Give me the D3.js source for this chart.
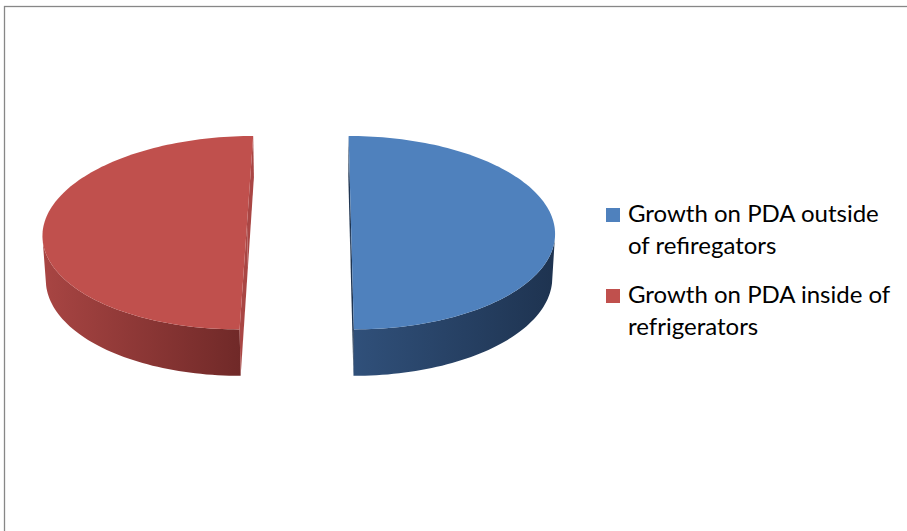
<!DOCTYPE html>
<html>
<head>
<meta charset="utf-8">
<script src="https://cdn.jsdelivr.net/npm/d3@7"></script>
<style>
  body { margin: 0; background: #fff; }
  svg { display: block; }
</style>
</head>
<body>
<svg width="907" height="531"></svg>
<script>
// data
var categories = ["Growth on PDA outside of refiregators", "Growth on PDA inside of refrigerators"];
var values = [50, 50];
var legendLines = [["Growth on PDA outside", "of refiregators"], ["Growth on PDA inside of", "refrigerators"]];

// styles
var topColors = ["#4F81BD", "#C0504D"];
var sideLight = ["#30507A", "#A84543"];
var sideDark = ["#1E3350", "#702928"];
var innerColors = ["#1F3552", "#A94644"];

var svg = d3.select("svg");

// frame (right and bottom edges fall off the picture)
svg.append("rect")
  .attr("x", 4.5).attr("y", 6.5)
  .attr("width", 1200).attr("height", 1200)
  .attr("fill", "none")
  .attr("stroke", "#878787")
  .attr("stroke-width", 1.3);

// 3d pie set-up: perspective view of a flat cylinder
var px = 322, py = 224, D = 1990, phi = 28.2 * Math.PI / 180;
var R = 203, H = 50, X0 = -23, explode = 52;

function proj(p) {
  var up = p[1] * Math.sin(phi) + p[2] * Math.cos(phi);
  var dz = p[1] * Math.cos(phi) - p[2] * Math.sin(phi);
  var s = D / (D + dz);
  return [px + p[0] * s, py - up * s];
}
var cam = [0, -D * Math.cos(phi), D * Math.sin(phi)];
function facing(n, p) {
  return n[0] * (cam[0] - p[0]) + n[1] * (cam[1] - p[1]) + n[2] * (cam[2] - p[2]) > 0;
}
var line = d3.line();
function poly(pts) { return line(pts) + "Z"; }

var pie = d3.pie().sort(null).value(function(d) { return d; });
var arcs = pie(values);

var defs = svg.append("defs");
var g = svg.append("g");

arcs.forEach(function(a, i) {
  var m = (a.startAngle + a.endAngle) / 2;
  var cx = X0 + explode * Math.sin(m), cy = explode * Math.cos(m);
  var n = 120;
  var angles = d3.range(n + 1).map(function(k) { return a.startAngle + (a.endAngle - a.startAngle) * k / n; });
  function rim(t, z) { return [cx + R * Math.sin(t), cy + R * Math.cos(t), z]; }
  var apexTop = [cx, cy, 0], apexBot = [cx, cy, -H];

  // outer wall
  var vis = angles.filter(function(t) { return facing([Math.sin(t), Math.cos(t), 0], rim(t, -H / 2)); });
  if (vis.length > 1) {
    var pts = vis.map(function(t) { return proj(rim(t, 0)); })
      .concat(vis.slice().reverse().map(function(t) { return proj(rim(t, -H)); }));
    var xs = d3.extent(pts, function(p) { return p[0]; });
    var grad = defs.append("linearGradient")
      .attr("id", "side" + i)
      .attr("gradientUnits", "userSpaceOnUse")
      .attr("x1", xs[0]).attr("x2", xs[1]).attr("y1", 0).attr("y2", 0);
    grad.append("stop").attr("offset", 0).attr("stop-color", sideLight[i]);
    grad.append("stop").attr("offset", 1).attr("stop-color", sideDark[i]);
    g.append("path").attr("d", poly(pts)).attr("fill", "url(#side" + i + ")");
  }

  // radial cut faces
  var a0 = a.startAngle, a1 = a.endAngle;
  var faces = [
    { n: [-Math.cos(a0), Math.sin(a0), 0], t: a0 },
    { n: [Math.cos(a1), -Math.sin(a1), 0], t: a1 }
  ];
  faces.forEach(function(f) {
    var mid = [cx + R / 2 * Math.sin(f.t), cy + R / 2 * Math.cos(f.t), -H / 2];
    if (facing(f.n, mid)) {
      g.append("path")
        .attr("d", poly([apexTop, rim(f.t, 0), rim(f.t, -H), apexBot].map(proj)))
        .attr("fill", innerColors[i]);
    }
  });

  // top face
  g.append("path")
    .attr("d", poly([proj(apexTop)].concat(angles.map(function(t) { return proj(rim(t, 0)); }))))
    .attr("fill", topColors[i]);
});

// legend
var legend = svg.append("g").attr("transform", "translate(606,0)");
var rowY = [222, 303];
categories.forEach(function(c, i) {
  legend.append("rect")
    .attr("x", 0).attr("y", rowY[i] - 14)
    .attr("width", 14).attr("height", 14)
    .attr("fill", topColors[i]);
  var t = legend.append("text")
    .attr("x", 22).attr("y", rowY[i])
    .attr("font-family", "Lato, 'Open Sans', sans-serif")
    .attr("font-size", 24)
    .attr("fill", "#000");
  legendLines[i].forEach(function(s, k) {
    t.append("tspan").attr("x", 22).attr("y", rowY[i] + k * 31.5).text(s);
  });
});
</script>
</body>
</html>
